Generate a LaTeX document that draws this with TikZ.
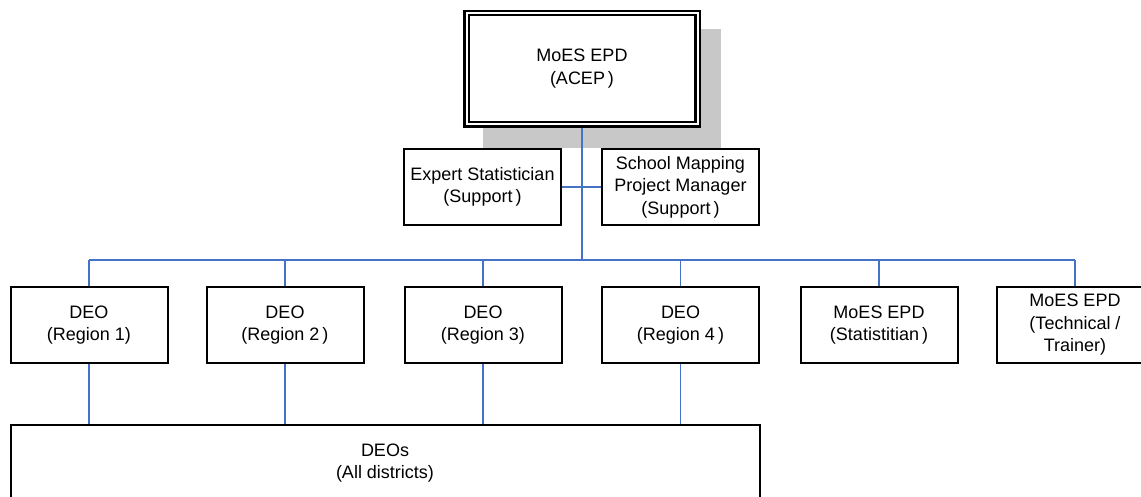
\documentclass[tikz,border=0pt]{standalone}
\usepackage{fontspec}
\setmainfont{Liberation Sans}
\usetikzlibrary{backgrounds}
\definecolor{linkblue}{HTML}{4472C4}
\definecolor{shadowgray}{HTML}{C8C8C8}
\begin{document}
\begin{tikzpicture}[x=1pt,y=-1pt,
  box/.style={draw=black, line width=2pt, fill=white, minimum width=157pt,
    minimum height=76pt, inner sep=0pt, align=center,
    font=\fontsize{18}{22.5}\selectfont},
  link/.style={draw=linkblue, line width=1.5pt}]
\useasboundingbox (0,0) rectangle (1141,497);
\clip (0,0) rectangle (1141,497);

% head office, double frame
\node[box, double, double distance=2pt, line width=2.2pt,
      minimum width=231pt, minimum height=111.5pt] (acep) at (582,68.75)
      {MoES EPD\\(ACEP\kern3pt)};

% support staff
\node[box] (expert) at (482.5,187) {Expert Statistician\\(Support\kern3pt)};
\node[box] (school) at (680.5,187) {School Mapping\\Project Manager\\(Support\kern3pt)};

% regional level
\node[box] (r1)   at (89,325)    {DEO\\(Region 1)};
\node[box] (r2)   at (285,325)   {DEO\\(Region 2\kern3pt)};
\node[box] (r3)   at (483,325)   {DEO\\(Region 3)};
\node[box] (r4)   at (680.5,325) {DEO\\(Region 4\kern3pt)};
\node[box] (stat) at (879,325)   {MoES EPD\\(Statistitian\kern3pt)};
\node[box] (tech) at (1075,325)  {MoES EPD\\(Technical /\\Trainer)};

% district level
\node[box, minimum width=749pt] (deos) at (385,463) {DEOs\\(All districts)};

\coordinate (bus) at (582,260);

\begin{scope}[on background layer]
  \fill[shadowgray] (483,29) rectangle (721,148);
  \draw[link] (acep.south) -- (acep.south |- bus);
  \draw[link] (expert.east) -- (school.west);
  \draw[link] (r1.north |- bus) -- (tech.north |- bus);
  \foreach \n in {r1,r2,r3,r4,stat,tech}
    \draw[link] (\n.north) -- (\n.north |- bus);
  \foreach \n in {r1,r2,r3,r4}
    \draw[link] (\n.south) -- (\n.south |- deos.north);
\end{scope}
\end{tikzpicture}
\end{document}
